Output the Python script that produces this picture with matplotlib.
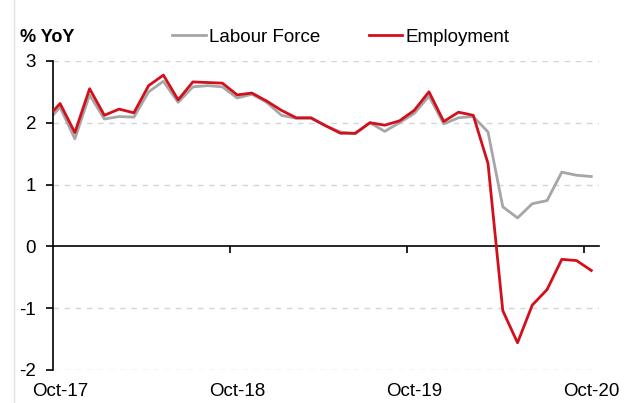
import numpy as np
import matplotlib.pyplot as plt
from matplotlib.lines import Line2D

plt.rcParams['font.family'] = ['Liberation Sans', 'DejaVu Sans']
plt.rcParams['axes.unicode_minus'] = False

# индекс месяца: 0 = Oct-17, -1 = Sep-17 (видна только часть отрезка у оси)
months = np.arange(-1, 37)
labour_force = [1.99, 2.25, 1.74, 2.45, 2.06, 2.10, 2.09, 2.50, 2.67, 2.33,
                2.58, 2.60, 2.58, 2.40, 2.46, 2.33, 2.12, 2.07, 2.07, 1.95,
                1.85, 1.82, 2.00, 1.86, 2.00, 2.15, 2.43, 1.98, 2.08, 2.10,
                1.85, 0.64, 0.46, 0.69, 0.74, 1.20, 1.15, 1.13]
employment = [2.05, 2.31, 1.84, 2.55, 2.12, 2.22, 2.16, 2.60, 2.77, 2.37,
              2.66, 2.65, 2.64, 2.45, 2.48, 2.35, 2.20, 2.08, 2.08, 1.95,
              1.83, 1.83, 2.00, 1.96, 2.03, 2.20, 2.50, 2.02, 2.17, 2.12,
              1.34, -1.04, -1.56, -0.95, -0.70, -0.21, -0.23, -0.39]
tick_pos = [0, 12, 24, 36]
tick_labels = ['Oct-17', 'Oct-18', 'Oct-19', 'Oct-20']

fig = plt.figure(figsize=(6.29, 4.03), dpi=100)
ax = fig.add_axes([0.0838, 0.0819, 0.868, 0.767])

# пунктирная сетка
for y in [-2, -1, 1, 2, 3]:
    ax.axhline(y, color='#d4d4d4', lw=1, ls=(0, (4, 4)), zorder=0)

ax.plot(months, labour_force, color='#a6a6a6', lw=2, label='Labour Force', zorder=2)
ax.plot(months, employment, color='#d40f1c', lw=2, label='Employment', zorder=3)

ax.set_xlim(-0.5, 36.5)
ax.set_ylim(-2, 3)
ax.set_yticks([-2, -1, 0, 1, 2, 3])
ax.set_xticks([11.5, 23.5, 35.5])
ax.set_xticklabels([])

for s in ['top', 'right']:
    ax.spines[s].set_visible(False)
ax.spines['bottom'].set_position(('data', 0))
ax.spines['bottom'].set_linewidth(1.2)
ax.spines['left'].set_linewidth(1.2)
ax.tick_params(axis='y', direction='out', length=5, width=1.2, pad=7, labelsize=13.5)
ax.tick_params(axis='x', direction='out', length=5, width=1.2)

# подписи оси X внизу графика
for p, lab in zip(tick_pos, tick_labels):
    ax.text(p, -0.068, lab, transform=ax.get_xaxis_transform(),
            ha='center', va='center', fontsize=13.5)

fig.text(20 / 629, 1 - 37 / 403, '% YoY', fontweight='bold', fontsize=13,
         ha='left', va='center')

ax.legend(loc='center left', bbox_to_anchor=(172 / 629, 1 - 37 / 403),
          bbox_transform=fig.transFigure, ncol=2, frameon=False,
          fontsize=13.5, handlelength=1.8, handletextpad=0.15,
          columnspacing=2.6, borderpad=0, borderaxespad=0)

# тонкая серая линия слева, как на скриншоте
fig.add_artist(Line2D([14 / 629, 14 / 629], [0, 1], color='#e2e2e2', lw=1))

plt.savefig('out.png', dpi=100)
